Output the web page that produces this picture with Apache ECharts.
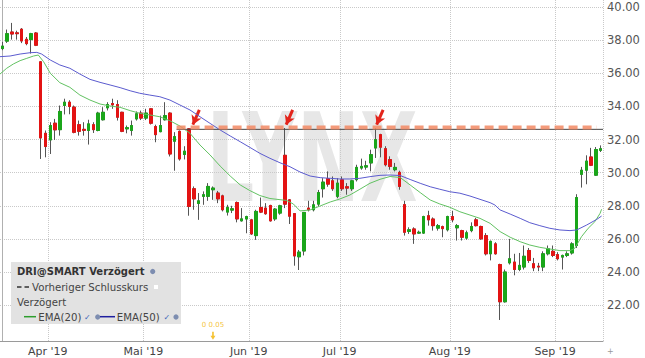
<!DOCTYPE html>
<html><head><meta charset="utf-8">
<script src="https://cdn.jsdelivr.net/npm/echarts@6/dist/echarts.min.js"></script>
<style>html,body{margin:0;padding:0;background:#fff}#c{width:645px;height:358px}</style>
</head><body><div id="c"></div>
<script>
// ---- categories (trading days 2019) ----
const dates = [
'03-19','03-20','03-21','03-22','03-25','03-26','03-27','03-28','03-29',
'04-01','04-02','04-03','04-04','04-05','04-08','04-09','04-10','04-11','04-12','04-15','04-16','04-17','04-18','04-22','04-23','04-24','04-25','04-26','04-29','04-30',
'05-01','05-02','05-03','05-06','05-07','05-08','05-09','05-10','05-13','05-14','05-15','05-16','05-17','05-20','05-21','05-22','05-23','05-24','05-28','05-29','05-30','05-31',
'06-03','06-04','06-05','06-06','06-07','06-10','06-11','06-12','06-13','06-14','06-17','06-18','06-19','06-20','06-21','06-24','06-25','06-26','06-27','06-28',
'07-01','07-02','07-03','07-05','07-08','07-09','07-10','07-11','07-12','07-15','07-16','07-17','07-18','07-19','07-22','07-23','07-24','07-25','07-26','07-29','07-30','07-31',
'08-01','08-02','08-05','08-06','08-07','08-08','08-09','08-12','08-13','08-14','08-15','08-16','08-19','08-20','08-21','08-22','08-23','08-26','08-27','08-28','08-29','08-30',
'09-03','09-04','09-05','09-06','09-09','09-10','09-11','09-12','09-13','09-16'];

// ---- OHLC values ----
const open = [37.5,37.95,38.5,38.45,38.67,38.06,38.04,38.44,36.7,32.38,
31.98,32.99,32.6,34.06,34.26,33.96,32.9,32.62,32.55,32.9,
32.55,33.2,33.92,34.18,34.12,33.65,32.65,32.55,33.25,33.6,
33.3,33.86,32.79,32.48,33.2,33.6,31.9,32.5,31.1,32.65,
29.03,28.14,28.57,28.57,28.97,28.77,28.6,27.62,27.74,28.2,
27.09,27.2,27.15,26.2,27.9,27.86,28.02,27.21,27.56,31.05,
28.36,27.53,24.92,25.27,27.86,27.76,28.1,29.03,29.64,29.51,
28.57,29.57,29.15,29.03,29.58,30.28,30.34,30.59,31.49,32.3,
31.45,30.79,30.18,30.02,28.07,26.45,26.6,26.35,26.35,27.4,
27.2,26.65,26.74,26.55,27.35,26.67,26.5,26.05,26.5,27.15,
26.75,26.2,25.1,25.7,24.45,22.2,24.55,24.6,24.15,24.3,
25.3,24.5,24.35,24.3,25.1,25.25,25.05,24.9,25.0,25.15,
25.6,29.9,30.15,30.95,29.85,31.35];
const close = [37.65,38.4,38.38,38.4,37.96,37.8,38.4,37.7,32.1,31.58,
32.85,32.59,33.7,34.26,34.0,32.44,32.5,32.56,32.95,32.6,
33.6,33.65,34.12,34.1,33.35,32.5,32.72,32.85,33.56,33.3,
33.6,32.99,32.3,32.85,33.45,31.13,32.18,30.83,31.3,27.96,
28.42,28.3,28.67,29.17,29.07,28.42,27.76,27.9,27.82,27.21,
27.21,27.35,26.3,27.66,27.62,27.52,27.09,27.8,28.0,28.1,
27.37,24.97,25.2,27.6,27.76,28.06,28.8,29.43,29.31,29.03,
29.37,29.03,29.07,29.51,30.32,30.38,30.42,31.09,32.0,31.54,
30.48,30.38,30.32,29.17,26.4,26.55,26.3,26.4,27.35,27.15,
26.8,26.8,26.62,27.35,27.15,26.8,26.1,26.37,26.75,26.8,
26.0,25.1,25.85,25.1,22.2,24.0,24.8,24.15,24.4,24.95,
24.7,24.25,24.3,25.1,25.4,25.0,24.8,25.0,25.1,25.7,
28.5,30.15,30.7,30.45,31.4,31.45];
const low = [37.4,37.84,38.04,38.04,37.83,37.7,37.2,37.65,30.83,30.93,
31.13,31.98,32.24,33.52,33.53,32.38,32.24,32.24,31.7,32.4,
32.5,33.15,33.76,33.86,33.15,32.45,32.38,32.24,33.15,33.18,
33.18,32.91,31.84,32.44,33.15,30.98,30.12,30.73,30.8,27.4,
27.76,27.15,28.06,28.3,28.36,28.16,27.66,27.41,27.56,27.0,
27.05,26.34,26.24,25.94,27.56,27.46,27.05,27.09,27.46,27.86,
26.9,24.38,24.12,25.0,27.66,27.66,27.96,28.5,29.15,28.9,
28.46,28.9,28.67,28.9,29.47,30.18,30.18,30.08,30.89,30.93,
30.38,30.18,30.08,28.97,26.2,26.3,25.7,26.3,26.3,26.8,
26.5,26.5,26.1,26.45,27.0,25.9,25.9,25.95,26.4,26.75,
25.95,25.0,24.7,25.05,21.1,22.15,24.45,23.8,24.05,24.15,
24.55,24.05,24.05,24.05,25.0,24.9,24.7,24.15,24.9,25.05,
25.45,29.1,29.3,30.4,29.8,31.25];
const high = [37.9,38.65,39.05,38.58,38.74,38.2,38.45,38.5,36.75,32.55,
33.05,33.25,34.06,34.47,34.38,34.06,33.15,33.05,33.2,33.05,
33.68,33.96,34.26,34.47,34.38,33.68,32.85,33.15,33.7,33.75,
33.86,33.9,32.9,33.45,34.26,33.65,32.45,32.55,31.6,32.7,
29.17,28.77,28.87,29.37,29.17,28.9,28.67,28.06,28.0,28.26,
27.86,27.4,27.21,27.76,28.5,28.16,28.06,27.86,28.06,32.7,
28.4,27.56,25.33,27.62,28.3,28.3,28.96,29.67,30.08,29.77,
29.67,29.77,29.37,29.57,30.48,30.85,30.72,31.39,32.7,32.35,
31.6,30.99,30.59,30.12,28.3,26.7,26.7,26.5,27.4,27.7,
27.3,26.9,26.8,27.4,27.7,26.9,26.55,26.5,27.0,27.27,
26.8,26.35,25.9,25.8,24.5,24.15,26.0,25.1,25.15,25.6,
25.45,24.85,24.55,25.25,25.6,25.6,25.2,25.05,25.25,25.8,
28.7,30.35,31.05,31.5,31.55,31.65];

// ---- moving averages: [position in candles, price] ----
const ema20 = [[-0.5,35.96],[0.9,36.31],[2.3,36.57],[3.7,36.77],[5.1,36.91],[6.5,37.05],[7.5,37.11],[8.6,36.71],[10,36.01],[12,35.44],[14.1,35.16],[16.2,34.69],[18.3,34.39],[20.4,34.15],[22.5,34.03],[24.6,33.95],[26.7,33.75],[28.7,33.59],[30.8,33.49],[32.9,33.38],[35,33.14],[37.1,32.82],[39.2,32.38],[41.3,31.67],[43.4,31.07],[45.5,30.40],[47.6,29.80],[49.7,29.26],[51.7,28.92],[53.8,28.62],[55.9,28.44],[58,28.37],[59.4,28.32],[60.8,28.11],[62.2,27.69],[64.3,27.75],[66.4,27.99],[68.5,28.23],[70.5,28.41],[72.6,28.65],[74.7,29.00],[76.8,29.36],[78.9,29.60],[81,29.77],[83.1,29.71],[85.2,29.26],[87.3,28.80],[89.4,28.35],[91.4,28.11],[93.5,27.91],[95.6,27.64],[97.7,27.44],[99.8,27.24],[101.9,26.94],[104,26.44],[106.1,26.10],[108.2,25.83],[110.2,25.63],[112.3,25.49],[114.4,25.39],[116.5,25.29],[118.6,25.29],[119.6,25.43],[121,26.13],[122.4,26.64],[123.8,27.04],[124.9,27.55],[125.2,27.79]];
const ema50 = [[-0.5,37.01],[1.6,37.05],[3.7,37.17],[5.8,37.25],[7.2,37.27],[8.2,37.17],[10,36.81],[12,36.51],[14.1,36.31],[16.2,35.96],[18.3,35.64],[20.4,35.46],[22.5,35.30],[24.6,35.14],[26.7,34.95],[28.7,34.80],[30.8,34.69],[32.9,34.59],[35,34.39],[37.1,34.09],[39.2,33.79],[41.3,33.38],[43.4,32.98],[45.5,32.58],[47.6,32.22],[49.7,31.87],[51.7,31.53],[53.8,31.17],[55.9,30.87],[58,30.60],[60.1,30.36],[62.2,30.04],[64.3,29.80],[66.4,29.70],[68.5,29.66],[70.5,29.62],[72.6,29.62],[74.7,29.66],[76.8,29.76],[78.9,29.84],[81,29.86],[83.1,29.83],[85.2,29.59],[87.3,29.36],[89.4,29.15],[91.4,29.00],[93.5,28.85],[95.6,28.76],[97.7,28.59],[99.8,28.39],[101.9,28.19],[102.9,28.05],[104,27.75],[106.1,27.50],[108.2,27.24],[110.2,26.98],[112.3,26.80],[114.4,26.64],[116.5,26.54],[118.6,26.50],[120,26.54],[122.1,26.84],[124.2,27.18],[125.2,27.38]];

// ---- annotations ----
const resistLevel = [32.73];
const resistLine = [32.62];
const resistSpan = [36.4, 124.2];
const resistLineSpan = [36.4, 125.5];
const arrowTipIdx = [39.8, 59.3, 78.2];
const arrowTipPrice = [32.9, 32.9, 32.9];
const dividendIdx = [44];
const dividendPrice = [20.15];
const dividendLabel = ['0 0.05'];

// ---- axis tick labels ----
const monthTickIdx = [10, 30, 52, 71, 94, 116];
const monthLabels = ["Apr '19", "Mai '19", "Jun '19", "Jul '19", "Aug '19", "Sep '19"];
const yTicks = [22, 24, 26, 28, 30, 32, 34, 36, 38, 40];

// ---- legend texts ----
const legendTitle = 'DRI@SMART Verzögert';
const legendPrev = 'Vorheriger Schlusskurs';
const legendSub = 'Verzögert';
const legendEma = ['EMA(20)', 'EMA(50)'];
const watermark = 'LYNX';

const FONT = 'DejaVu Sans';
const UP = '#1aa61a', DOWN = '#e31313', WICK = '#555';

const wickData = open.map((o, i) => [o, close[i], low[i], high[i]]);
const bodyData = open.map((o, i) => [o, close[i], Math.min(o, close[i]), Math.max(o, close[i])]);

const chart = echarts.init(document.getElementById('c'), null, {renderer: 'svg'});
const gridCol = '#c9c9c9';

const option = {
  animation: false,
  backgroundColor: '#fff',
  grid: {left: 0, right: 42, top: 0, bottom: 17, containLabel: false},
  xAxis: [{
    type: 'category', data: dates, boundaryGap: true,
    axisLine: {show: true, lineStyle: {color: '#9a9a9a', width: 1}},
    axisTick: {show: false},
    axisLabel: {
      interval: (i) => monthTickIdx.includes(i),
      formatter: (v, i) => monthLabels[monthTickIdx.indexOf(i)] || '',
      color: '#444', fontFamily: FONT, fontSize: 11, margin: 5,
      padding: [0, 5, 0, 0]
    },
    splitLine: {show: true, interval: (i) => monthTickIdx.includes(i),
      lineStyle: {color: gridCol, type: 'dotted', width: 1}}
  }, {
    type: 'value', min: -0.5, max: 125.5, show: false
  }],
  yAxis: [{
    type: 'value', position: 'right', min: 19.83, max: 40.435, scale: true,
    axisLine: {show: true, lineStyle: {color: '#b0b0b0', width: 1}},
    axisTick: {show: false, customValues: yTicks},
    axisLabel: {customValues: yTicks, formatter: (v) => v.toFixed(2),
      color: '#555', fontFamily: FONT, fontSize: 11.5, margin: 4},
    splitLine: {show: true, customValues: yTicks, lineStyle: {color: gridCol, type: 'dotted', width: 1}}
  }],
  graphic: [
    {type: 'text', z: -1, silent: true, x: 312, y: 158, scaleX: 0.61, originX: 0, originY: 0,
      style: {text: watermark, font: 'bold 123px "DejaVu Sans"', fill: '#e7e7e7', align: 'center', verticalAlign: 'middle'}},
    {type: 'rect', z: 50, shape: {x: 11, y: 262, width: 170, height: 62}, style: {fill: '#e2e2e2'}},
    {type: 'text', z: 51, x: 17, y: 271.5, style: {text: legendTitle, font: 'bold 10px "DejaVu Sans"', fill: '#333', verticalAlign: 'middle'}},
    {type: 'circle', z: 51, shape: {cx: 152.7, cy: 271.5, r: 2.6}, style: {fill: '#7d8db0'}},
    {type: 'line', z: 51, shape: {x1: 17, y1: 287, x2: 30, y2: 287}, style: {stroke: '#333', lineWidth: 1.3, lineDash: [4.5, 3]}},
    {type: 'text', z: 51, x: 32, y: 287, style: {text: legendPrev, font: '10.2px "DejaVu Sans"', fill: '#444', verticalAlign: 'middle'}},
    {type: 'rect', z: 51, shape: {x: 154, y: 285, width: 4, height: 4}, style: {fill: '#fff'}},
    {type: 'text', z: 51, x: 17, y: 302, style: {text: legendSub, font: '10.2px "DejaVu Sans"', fill: '#444', verticalAlign: 'middle'}},
    {type: 'line', z: 51, shape: {x1: 24, y1: 316.7, x2: 36, y2: 316.7}, style: {stroke: '#2e9e2e', lineWidth: 1.5}},
    {type: 'text', z: 51, x: 38.3, y: 317, style: {text: legendEma[0], font: '10.2px "DejaVu Sans"', fill: '#444', verticalAlign: 'middle'}},
    {type: 'text', z: 51, x: 84, y: 317, style: {text: '✓', font: 'bold 8px "DejaVu Sans"', fill: '#3a62b8', verticalAlign: 'middle'}},
    {type: 'circle', z: 51, shape: {cx: 97.7, cy: 317, r: 2.6}, style: {fill: '#7d8db0'}},
    {type: 'line', z: 51, shape: {x1: 100, y1: 316.7, x2: 115, y2: 316.7}, style: {stroke: '#1f1f9f', lineWidth: 1.5}},
    {type: 'text', z: 51, x: 116.7, y: 317, style: {text: legendEma[1], font: '10.2px "DejaVu Sans"', fill: '#444', verticalAlign: 'middle'}},
    {type: 'text', z: 51, x: 163.5, y: 317, style: {text: '✓', font: 'bold 8px "DejaVu Sans"', fill: '#3a62b8', verticalAlign: 'middle'}},
    {type: 'circle', z: 51, shape: {cx: 176, cy: 317, r: 2.6}, style: {fill: '#7d8db0'}},
    {type: 'text', z: 51, x: 607, y: 351, style: {text: '+', font: '8px "DejaVu Sans"', fill: '#999', verticalAlign: 'middle'}}
  ],
  series: [
    {type: 'candlestick', name: 'wick', xAxisIndex: 0, yAxisIndex: 0, barWidth: 3, data: wickData, z: 3,
      itemStyle: {color: 'rgba(0,0,0,0)', color0: 'rgba(0,0,0,0)', borderColor: WICK, borderColor0: WICK, borderWidth: 1},
      emphasis: {disabled: true}, silent: true},
    {type: 'candlestick', name: 'DRI@SMART', xAxisIndex: 0, yAxisIndex: 0, barWidth: 3, data: bodyData, z: 4,
      itemStyle: {color: UP, color0: DOWN, borderColor: UP, borderColor0: DOWN, borderWidth: 1},
      emphasis: {disabled: true}, silent: true},
    {type: 'line', name: 'EMA(20)', xAxisIndex: 1, yAxisIndex: 0, data: ema20, showSymbol: false, symbol: 'none', z: 5,
      lineStyle: {color: '#62c262', width: 1}, silent: true},
    {type: 'line', name: 'EMA(50)', xAxisIndex: 1, yAxisIndex: 0, data: ema50, showSymbol: false, symbol: 'none', z: 5,
      lineStyle: {color: '#5b5bcf', width: 1}, silent: true},
    {type: 'line', name: 'line', xAxisIndex: 1, yAxisIndex: 0, z: 6, symbol: 'none', silent: true,
      data: [[resistLineSpan[0], resistLine[0]], [resistLineSpan[1], resistLine[0]]],
      lineStyle: {color: '#444', width: 1}},
    {type: 'line', name: 'resist', xAxisIndex: 1, yAxisIndex: 0, z: 7, symbol: 'none', silent: true,
      data: [[resistSpan[0], resistLevel[0]], [resistSpan[1], resistLevel[0]]],
      lineStyle: {color: 'rgba(242,138,100,0.85)', width: 4, type: [9, 5]},
      markLine: {silent: true, symbol: ['none', 'arrow'], symbolSize: [8, 9], animation: false,
        label: {show: false}, emphasis: {disabled: true},
        lineStyle: {color: '#e3241b', width: 3, type: 'solid'},
        data: arrowTipIdx.map((t, i) => [{coord: [t + 1.35, arrowTipPrice[i] + 0.9]}, {coord: [t, arrowTipPrice[i]]}])}
    },
    {type: 'scatter', name: 'div', xAxisIndex: 0, yAxisIndex: 0, z: 8, silent: true,
      data: dividendIdx.map((d, i) => [d, dividendPrice[i]]),
      symbol: 'path://M2,0 L4,0 L4,5 L6,5 L3,10 L0,5 L2,5 Z', symbolSize: [5, 8],
      itemStyle: {color: '#f2b300'},
      label: {show: true, position: 'top', distance: 3, formatter: (p) => dividendLabel[p.dataIndex],
        fontSize: 7, color: '#f2b300', fontFamily: FONT}}
  ]
};
chart.setOption(option);
</script></body></html>
